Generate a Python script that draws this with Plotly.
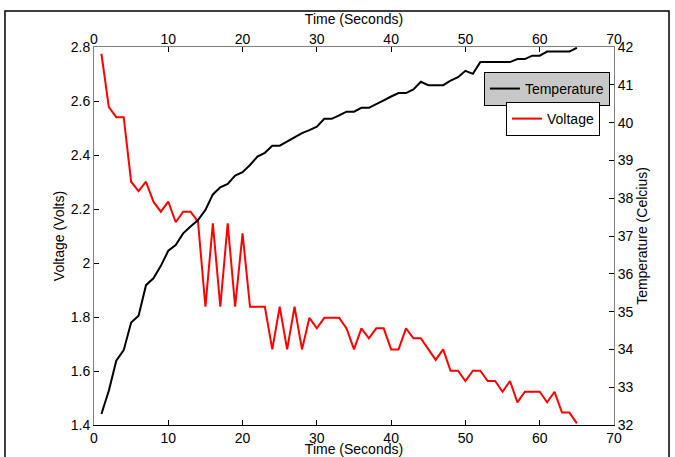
import plotly.graph_objects as go

time_s = list(range(1, 66))

voltage = [2.775, 2.577, 2.540, 2.540, 2.301, 2.266, 2.301, 2.227, 2.190, 2.227,
           2.151, 2.190, 2.190, 2.153, 1.838, 2.147, 1.838, 2.147, 1.838, 2.110,
           1.838, 1.838, 1.838, 1.680, 1.838, 1.680, 1.838, 1.680, 1.797, 1.758,
           1.797, 1.797, 1.797, 1.758, 1.680, 1.758, 1.721, 1.758, 1.758, 1.680,
           1.680, 1.758, 1.721, 1.721, 1.680, 1.641, 1.680, 1.601, 1.601, 1.563,
           1.601, 1.601, 1.563, 1.563, 1.523, 1.563, 1.484, 1.523, 1.523, 1.523,
           1.484, 1.523, 1.446, 1.446, 1.406]

temperature = [32.29, 32.91, 33.70, 33.98, 34.71, 34.89, 35.70, 35.88, 36.21, 36.61,
               36.76, 37.07, 37.25, 37.42, 37.69, 38.10, 38.29, 38.38, 38.60, 38.69,
               38.88, 39.10, 39.20, 39.39, 39.39, 39.50, 39.61, 39.72, 39.80, 39.89,
               40.10, 40.10, 40.19, 40.29, 40.29, 40.39, 40.39, 40.48, 40.59, 40.69,
               40.78, 40.78, 40.88, 41.08, 40.99, 40.99, 40.99, 41.11, 41.20, 41.37,
               41.29, 41.60, 41.60, 41.60, 41.60, 41.60, 41.68, 41.68, 41.77, 41.77,
               41.88, 41.88, 41.88, 41.88, 41.98]

x_ticks = [0, 10, 20, 30, 40, 50, 60, 70]
v_ticks = [1.4, 1.6, 1.8, 2.0, 2.2, 2.4, 2.6, 2.8]
v_tick_labels = ["1.4", "1.6", "1.8", "2", "2.2", "2.4", "2.6", "2.8"]
t_ticks = [32, 33, 34, 35, 36, 37, 38, 39, 40, 41, 42]

FONT = "Liberation Sans, Arial, sans-serif"
GRAY = "#808080"

fig = go.Figure()
fig.add_trace(go.Scatter(x=time_s, y=voltage, mode="lines", name="Voltage",
                         line=dict(color="#ff0000", width=2),
                         xaxis="x", yaxis="y", legend="legend2", showlegend=True))
fig.add_trace(go.Scatter(x=time_s, y=temperature, mode="lines", name="Temperature",
                         line=dict(color="#000000", width=2),
                         xaxis="x2", yaxis="y2", legend="legend", showlegend=True))

axis_common = dict(ticks="inside", ticklen=5, tickwidth=1, showgrid=False,
                   zeroline=False, showline=True, automargin=False,
                   tickfont=dict(family=FONT, size=14, color="black"))

fig.update_layout(
    width=675, height=457,
    showlegend=True,
    margin=dict(l=94, r=61, t=47, b=32),
    paper_bgcolor="white", plot_bgcolor="white",
    font=dict(family=FONT, size=14, color="black"),
    xaxis=dict(range=[0, 70], tickvals=x_ticks, linecolor="black",
               title=dict(text="Time (Seconds)", standoff=0,
                          font=dict(family=FONT, size=14)),
               tickcolor="black", **axis_common),
    yaxis=dict(range=[1.4, 2.8], tickvals=v_ticks, ticktext=v_tick_labels,
               linecolor=GRAY, tickcolor="black",
               title=dict(text="Voltage (Volts)", standoff=2,
                          font=dict(family=FONT, size=14)),
               **axis_common),
    xaxis2=dict(range=[0, 70], tickvals=x_ticks, side="top", overlaying="x",
                anchor="y2", linecolor=GRAY, tickcolor="black",
                ticklabelstandoff=-4,
                title=dict(text="Time (Seconds)", standoff=3,
                           font=dict(family=FONT, size=14)),
                **axis_common),
    yaxis2=dict(range=[32, 42], tickvals=t_ticks, side="right", overlaying="y",
                anchor="x2", linecolor=GRAY, tickcolor="black",
                title=dict(text="Temperature (Celcius)", standoff=0,
                           font=dict(family=FONT, size=14)),
                **axis_common),
    legend=dict(x=0.871, y=0.889, xanchor="center", yanchor="middle",
                bgcolor="#c8c8c8", bordercolor="black", borderwidth=1,
                font=dict(family=FONT, size=14, color="black"), visible=True),
    legend2=dict(x=0.8827, y=0.8095, xanchor="center", yanchor="middle",
                 bgcolor="white", bordercolor="black", borderwidth=1,
                 font=dict(family=FONT, size=14, color="black"), visible=True),
    shapes=[dict(type="rect", xref="paper", yref="paper",
                 x0=-0.1712, x1=1.1058, y0=-0.12, y1=1.0952,
                 line=dict(color="black", width=1.5), layer="above")],
)

fig.write_html("out.html",
               config={"displayModeBar": False},
               post_script="document.body.style.margin='0px';"
                           "document.body.style.overflow='hidden';")
